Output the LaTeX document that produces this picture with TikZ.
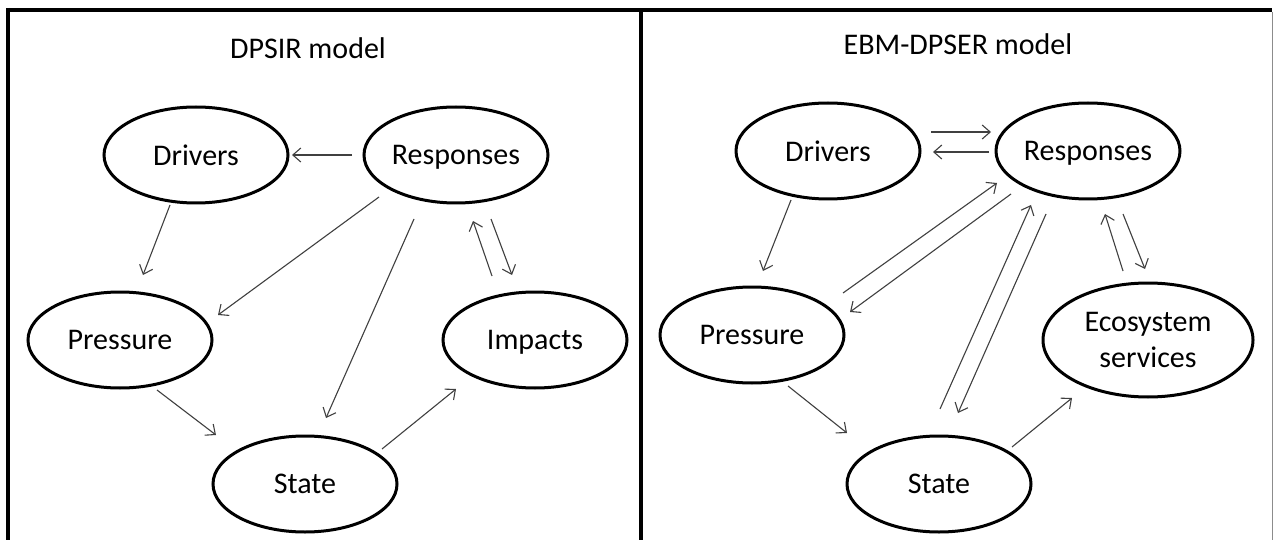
\documentclass[tikz,border=0pt]{standalone}
\usepackage{fontspec}
\setmainfont{Carlito}
\usetikzlibrary{shapes.geometric,arrows.meta,calc}
\begin{document}
\begin{tikzpicture}[x=1pt,y=-1pt,
  ell/.style={draw=black,line width=3pt,ellipse,minimum width=184pt,minimum height=96pt,inner sep=0pt,
    font=\fontsize{30}{34}\selectfont,text=black,text depth=0pt},
  ttl/.style={font=\fontsize{30}{34}\selectfont,text=black,anchor=base},
  arr/.style={draw=black!75,line width=1.1pt,-{Straight Barb[length=8pt,width=14pt]}},
  frame/.style={draw=black,line width=4.5pt},
]
\useasboundingbox (0,0) rectangle (1274,540);
\fill[white] (0,0) rectangle (1274,540);
% frame
\draw[frame] (6,10) -- (1272,10);
\draw[frame] (8,8) -- (8,540);
\draw[frame] (641,10) -- (641,540);
\draw[draw=black!45,line width=1pt] (1272,12) -- (1272,540);

% left panel
\node[ttl] (tL) at (308,59) {DPSIR model};
\node[ell] (drvL) at (196,155) {Drivers};
\node[ell] (resL) at (456,155) {Responses};
\node[ell] (preL) at (120,340) {Pressure};
\node[ell] (impL) at (535,340) {Impacts};
\node[ell] (staL) at (305,484) {State};

\draw[arr] ($(resL)+(-104,0)$) -- ($(drvL)+(96,0)$);
\draw[arr] ($(drvL)+(-26,50)$) -- ($(preL)+(23,-65)$);
\draw[arr] ($(resL)+(-77,42)$) -- ($(preL)+(98,-25)$);
\draw[arr] ($(resL)+(-42,64)$) -- ($(staL)+(21,-66)$);
\draw[arr] ($(impL)+(-43,-64)$) -- ($(resL)+(17,66)$);
\draw[arr] ($(resL)+(35,64)$) -- ($(impL)+(-23,-65)$);
\draw[arr] ($(preL)+(37,50)$) -- ($(staL)+(-89,-49)$);
\draw[arr] ($(staL)+(77,-35)$) -- ($(impL)+(-79,49)$);

% right panel
\node[ttl] (tR) at (958,55) {EBM-DPSER model};
\node[ell] (drvR) at (828,151) {Drivers};
\node[ell] (resR) at (1088,151) {Responses};
\node[ell] (preR) at (752,335) {Pressure};
\node[ell,minimum width=210pt,minimum height=114pt,align=center,text depth=,
  font=\fontsize{30}{36}\selectfont] (ecoR) at (1148,340) {Ecosystem\\services};
\node[ell] (staR) at (939,484) {State};

\draw[arr] ($(drvR)+(103,-19)$) -- ($(resR)+(-97,-19)$);
\draw[arr] ($(resR)+(-99,1)$) -- ($(drvR)+(105,1)$);
\draw[arr] ($(drvR)+(-37,49)$) -- ($(preR)+(11,-64)$);
\draw[arr] ($(preR)+(91,-42)$) -- ($(resR)+(-91,32)$);
\draw[arr] ($(resR)+(-77,43)$) -- ($(preR)+(98,-23)$);
\draw[arr] ($(staR)+(1,-75)$) -- ($(resR)+(-57,54)$);
\draw[arr] ($(resR)+(-42,63)$) -- ($(staR)+(19,-71)$);
\draw[arr] ($(ecoR)+(-25,-69)$) -- ($(resR)+(17,63)$);
\draw[arr] ($(resR)+(35,63)$) -- ($(ecoR)+(-3,-71)$);
\draw[arr] ($(preR)+(36,51)$) -- ($(staR)+(-92,-51)$);
\draw[arr] ($(staR)+(73,-37)$) -- ($(ecoR)+(-76,58)$);
\end{tikzpicture}
\end{document}
